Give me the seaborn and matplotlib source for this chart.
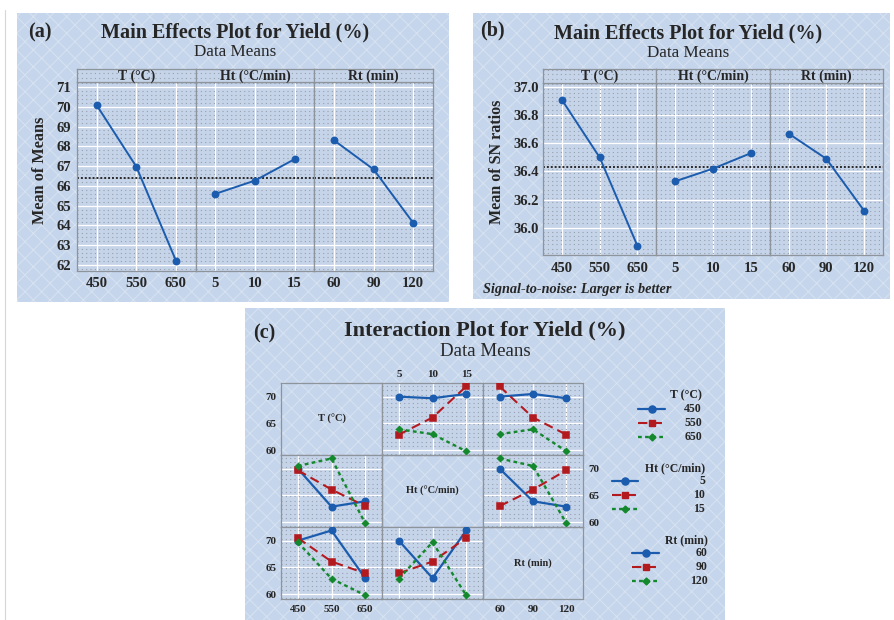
import numpy as np
import pandas as pd
import matplotlib
matplotlib.use("Agg")
import matplotlib.pyplot as plt
from matplotlib.patches import Rectangle
from matplotlib.lines import Line2D
from matplotlib.ticker import MultipleLocator
import seaborn as sns

# ---------------- data ----------------
t_levels = [450, 550, 650]
ht_levels = [5, 10, 15]
rt_levels = [60, 90, 120]

# main effects for mean yield (%)
t_mean = [70.07, 66.97, 62.23]
ht_mean = [65.60, 66.27, 67.35]
rt_mean = [68.30, 66.83, 64.13]
grand_mean = 66.42

# main effects for S/N ratio (larger is better)
t_sn = [36.91, 36.50, 35.87]
ht_sn = [36.33, 36.42, 36.53]
rt_sn = [36.67, 36.49, 36.12]
grand_sn = 36.43

# L9 orthogonal array runs and measured yield (%)
run_t = [450, 450, 450, 550, 550, 550, 650, 650, 650]
run_ht = [5, 10, 15, 5, 10, 15, 5, 10, 15]
run_rt = [60, 120, 90, 120, 90, 60, 90, 60, 120]
run_yield = [70.0, 69.7, 70.5, 62.9, 66.1, 71.9, 63.9, 63.0, 59.8]

factor_keys = ["T", "Ht", "Rt"]
factor_names = ["T (°C)", "Ht (°C/min)", "Rt (min)"]
factor_levels = [t_levels, ht_levels, rt_levels]

# ---------------- style ----------------
sns.set_style("white")
plt.rcParams["font.family"] = ["Liberation Serif", "DejaVu Serif"]
plt.rcParams["font.weight"] = "bold"
plt.rcParams["hatch.linewidth"] = 0.8

BLUE = "#1b5cae"
RED = "#b31a1f"
GREEN = "#13882c"
PANEL_BG = "#c5d5eb"
PLOT_BG = "#c6d4e9"
FRAME = "#8e949c"
DOT = "#96a0ae"

W, H = 894, 620
fig = plt.figure(figsize=(W / 100, H / 100), dpi=100)
fig.patch.set_facecolor("white")


def fx(x):
    return x / W


def fy(y):
    return 1 - y / H


def px_rect(x0, y0, x1, y1):
    return [x0 / W, 1 - y1 / H, (x1 - x0) / W, (y1 - y0) / H]


def panel_box(x0, y0, x1, y1):
    base = Rectangle((fx(x0), fy(y1)), (x1 - x0) / W, (y1 - y0) / H,
                     transform=fig.transFigure, facecolor=PANEL_BG,
                     edgecolor="none", zorder=-3)
    fig.add_artist(base)
    hatch = Rectangle((fx(x0), fy(y1)), (x1 - x0) / W, (y1 - y0) / H,
                      transform=fig.transFigure, facecolor="none",
                      edgecolor=(1, 1, 1, 0.3), hatch="xx", lw=0, zorder=-2)
    fig.add_artist(hatch)


def dotted_area(ax, step):
    ax.set_facecolor(PLOT_BG)
    ax.yaxis.set_minor_locator(MultipleLocator(step))
    ax.grid(which="minor", axis="y", color=DOT, lw=0.8, ls=(0, (1, 2.9)))
    ax.grid(which="major", axis="both", color=(1, 1, 1, 0.75), lw=0.9)
    ax.tick_params(which="minor", length=0)
    ax.set_axisbelow(True)
    for s in ax.spines.values():
        s.set_color(FRAME)
        s.set_linewidth(0.9)


def frame_only(ax):
    for s in ax.spines.values():
        s.set_color(FRAME)
        s.set_linewidth(0.9)


# vertical rule at the far left of the page
fig.add_artist(Line2D([fx(5), fx(5)], [0, fy(10)], transform=fig.transFigure,
                      color="#d6d6d6", lw=0.8, zorder=-4))


# ---------------- main effects panels ----------------
def main_effects(x0, x1, y_strip, y_top, y_bot, series, grand, ylim, yticks,
                 yfmt, minor_step, xpad, ypad):
    w = (x1 - x0) / 3
    strip_step = 4.3 / (y_top - y_strip)
    for k, (label, levels, vals) in enumerate(series):
        left = x0 + k * w
        ax = fig.add_axes(px_rect(left, y_top, left + w, y_bot))
        df = pd.DataFrame({"level": levels, "value": vals})
        sns.pointplot(data=df, x="level", y="value", color=BLUE, errorbar=None,
                      markers="o", linestyles="-", markersize=4.6, linewidth=1.4,
                      ax=ax)
        ax.axhline(grand, color="#2a2a2a", lw=1.4, ls=(0, (1, 1)), zorder=1.5)
        ax.set_xlim(-0.5, 2.5)
        ax.set_ylim(*ylim)
        ax.set_yticks(yticks)
        ax.set_xlabel("")
        ax.set_ylabel("")
        dotted_area(ax, minor_step)
        ax.tick_params(axis="x", length=0, pad=xpad, labelsize=10.5)
        if k == 0:
            ax.set_yticklabels([yfmt.format(v) for v in yticks])
            ax.tick_params(axis="y", length=0, pad=ypad, labelsize=10.5)
        else:
            ax.tick_params(axis="y", left=False, labelleft=False)

        sx = fig.add_axes(px_rect(left, y_strip, left + w, y_top))
        sx.set_xlim(0, 1)
        sx.set_ylim(0, 1)
        sx.set_xticks([])
        sx.set_yticks([])
        dotted_area(sx, strip_step)
        sx.tick_params(which="both", length=0, labelleft=False, labelbottom=False)
        sx.text(0.5, 0.45, label, ha="center", va="center", fontsize=10,
                fontweight="bold", transform=sx.transAxes)


# (a) means
panel_box(17, 13, 449, 302)
fig.text(fx(28), fy(37), "(a)", fontsize=14.5, fontweight="bold", va="baseline")
fig.text(fx(235), fy(37.7), "Main Effects Plot for Yield (%)", fontsize=14.5,
         fontweight="bold", ha="center", va="baseline")
fig.text(fx(235), fy(56), "Data Means", fontsize=12.3, fontweight="normal",
         ha="center", va="baseline")
main_effects(77, 433, 69, 82, 271,
             [(factor_names[0], t_levels, t_mean),
              (factor_names[1], ht_levels, ht_mean),
              (factor_names[2], rt_levels, rt_mean)],
             grand_mean, (61.7, 71.25), list(range(62, 72)), "{:d}", 0.2,
             4.2, 4.5)
fig.text(fx(40), fy(170), "Mean of Means", rotation=90, fontsize=11.7,
         fontweight="bold", ha="center", va="center")

# (b) signal-to-noise ratios
panel_box(473, 13, 890, 299)
fig.text(fx(480), fy(35), "(b)", fontsize=14.5, fontweight="bold", va="baseline")
fig.text(fx(688), fy(38.3), "Main Effects Plot for Yield (%)", fontsize=14.5,
         fontweight="bold", ha="center", va="baseline")
fig.text(fx(688), fy(56.7), "Data Means", fontsize=12.3, fontweight="normal",
         ha="center", va="baseline")
main_effects(543, 883, 69, 83, 255,
             [(factor_names[0], t_levels, t_sn),
              (factor_names[1], ht_levels, ht_sn),
              (factor_names[2], rt_levels, rt_sn)],
             grand_sn, (35.805, 37.03), [36.0, 36.2, 36.4, 36.6, 36.8, 37.0],
             "{:.1f}", 0.03, 4.8, 2.7)
fig.text(fx(497), fy(162), "Mean of SN ratios", rotation=90, fontsize=11.6,
         fontweight="bold", ha="center", va="center")
fig.text(fx(483), fy(293), "Signal-to-noise: Larger is better", fontsize=10.3,
         fontweight="bold", fontstyle="italic", va="baseline")

# ---------------- (c) interaction panel ----------------
panel_box(245, 308, 725, 620)
fig.text(fx(253), fy(338), "(c)", fontsize=14.5, fontweight="bold", va="baseline")
fig.text(fx(485), fy(335), "Interaction Plot for Yield (%)", fontsize=16,
         fontweight="bold", ha="center", va="baseline")
fig.text(fx(485), fy(356), "Data Means", fontsize=13.6, fontweight="normal",
         ha="center", va="baseline")

runs = pd.DataFrame({"T": run_t, "Ht": run_ht, "Rt": run_rt, "Yield": run_yield})

colors = [BLUE, RED, GREEN]
marker_set = ["o", "s", "D"]
marker_sizes = [4.6, 4.3, 3.0]
line_styles = ["-", (0, (4.5, 2.5)), (0, (1.6, 1.4))]
line_widths = [1.6, 1.5, 1.7]

cx = [281, 382, 483, 583]
ry = [383, 455, 527, 599]
ylim_c = (59.1, 72.55)

for i in range(3):
    for j in range(3):
        ax = fig.add_axes(px_rect(cx[j], ry[i], cx[j + 1], ry[i + 1]))
        if i == j:
            ax.set_facecolor("none")
            frame_only(ax)
            ax.text(0.5, 0.5, factor_names[i], transform=ax.transAxes,
                    ha="center", va="center", fontsize=7.5, fontweight="bold")
        else:
            sns.pointplot(data=runs, x=factor_keys[j], y="Yield",
                          hue=factor_keys[i], hue_order=factor_levels[i],
                          palette=colors, markers=marker_set,
                          linestyles=["-", "--", ":"], errorbar=None,
                          legend=False, markersize=5, linewidth=1.5, ax=ax)
            data_lines = [ln for ln in ax.lines if len(ln.get_xdata()) == 3]
            for ln, ms, ls, lw in zip(data_lines, marker_sizes, line_styles, line_widths):
                ln.set_markersize(ms)
                ln.set_linestyle(ls)
                ln.set_linewidth(lw)
                ln.set_zorder(3)
            dotted_area(ax, 0.8)
        ax.set_xlim(-0.5, 2.5)
        ax.set_ylim(*ylim_c)
        ax.set_xticks([0, 1, 2])
        ax.set_xticklabels([str(v) for v in factor_levels[j]])
        ax.set_yticks([60, 65, 70])
        ax.set_yticklabels(["60", "65", "70"])
        ax.set_xlabel("")
        ax.set_ylabel("")
        show_left = j == 0 and i in (0, 2)
        show_right = i == 1 and j == 2
        show_bottom = i == 2 and j in (0, 2)
        show_top = i == 0 and j == 1
        ax.tick_params(axis="y", length=0, labelsize=8, pad=3.4,
                       labelleft=show_left, labelright=show_right,
                       left=False, right=False)
        if show_right:
            ax.tick_params(axis="y", pad=4)
        ax.tick_params(axis="x", length=0, labelsize=8, pad=4.2,
                       labelbottom=show_bottom, labeltop=show_top,
                       bottom=False, top=False)
        if show_top:
            ax.tick_params(axis="x", pad=2.7)


# legends for the three factor groupings
def legend_group(title, labels, title_y, ys, h0, h1, right_x):
    fig.text(fx(right_x), fy(title_y), title, ha="right", va="center",
             fontsize=8.5, fontweight="bold")
    for lab, y, c, mk, ms, ls, lw in zip(labels, ys, colors, marker_set,
                                         marker_sizes, line_styles, line_widths):
        fig.add_artist(Line2D([fx(h0), fx(h1)], [fy(y), fy(y)],
                              transform=fig.transFigure, color=c, ls=ls, lw=lw))
        fig.add_artist(Line2D([fx((h0 + h1) / 2)], [fy(y)], transform=fig.transFigure,
                              color=c, marker=mk, ms=ms + 0.5, ls="none"))
        fig.text(fx(right_x), fy(y), str(lab), ha="right", va="center",
                 fontsize=8.5, fontweight="bold")


legend_group(factor_names[0], t_levels, 395.7, [409.3, 423, 437], 638, 665, 702)
legend_group(factor_names[1], ht_levels, 468, [481, 495, 509], 612, 638, 705)
legend_group(factor_names[2], rt_levels, 540, [553, 567, 581], 632, 659, 708)

fig.savefig("out.png", dpi=100, facecolor=fig.get_facecolor())
